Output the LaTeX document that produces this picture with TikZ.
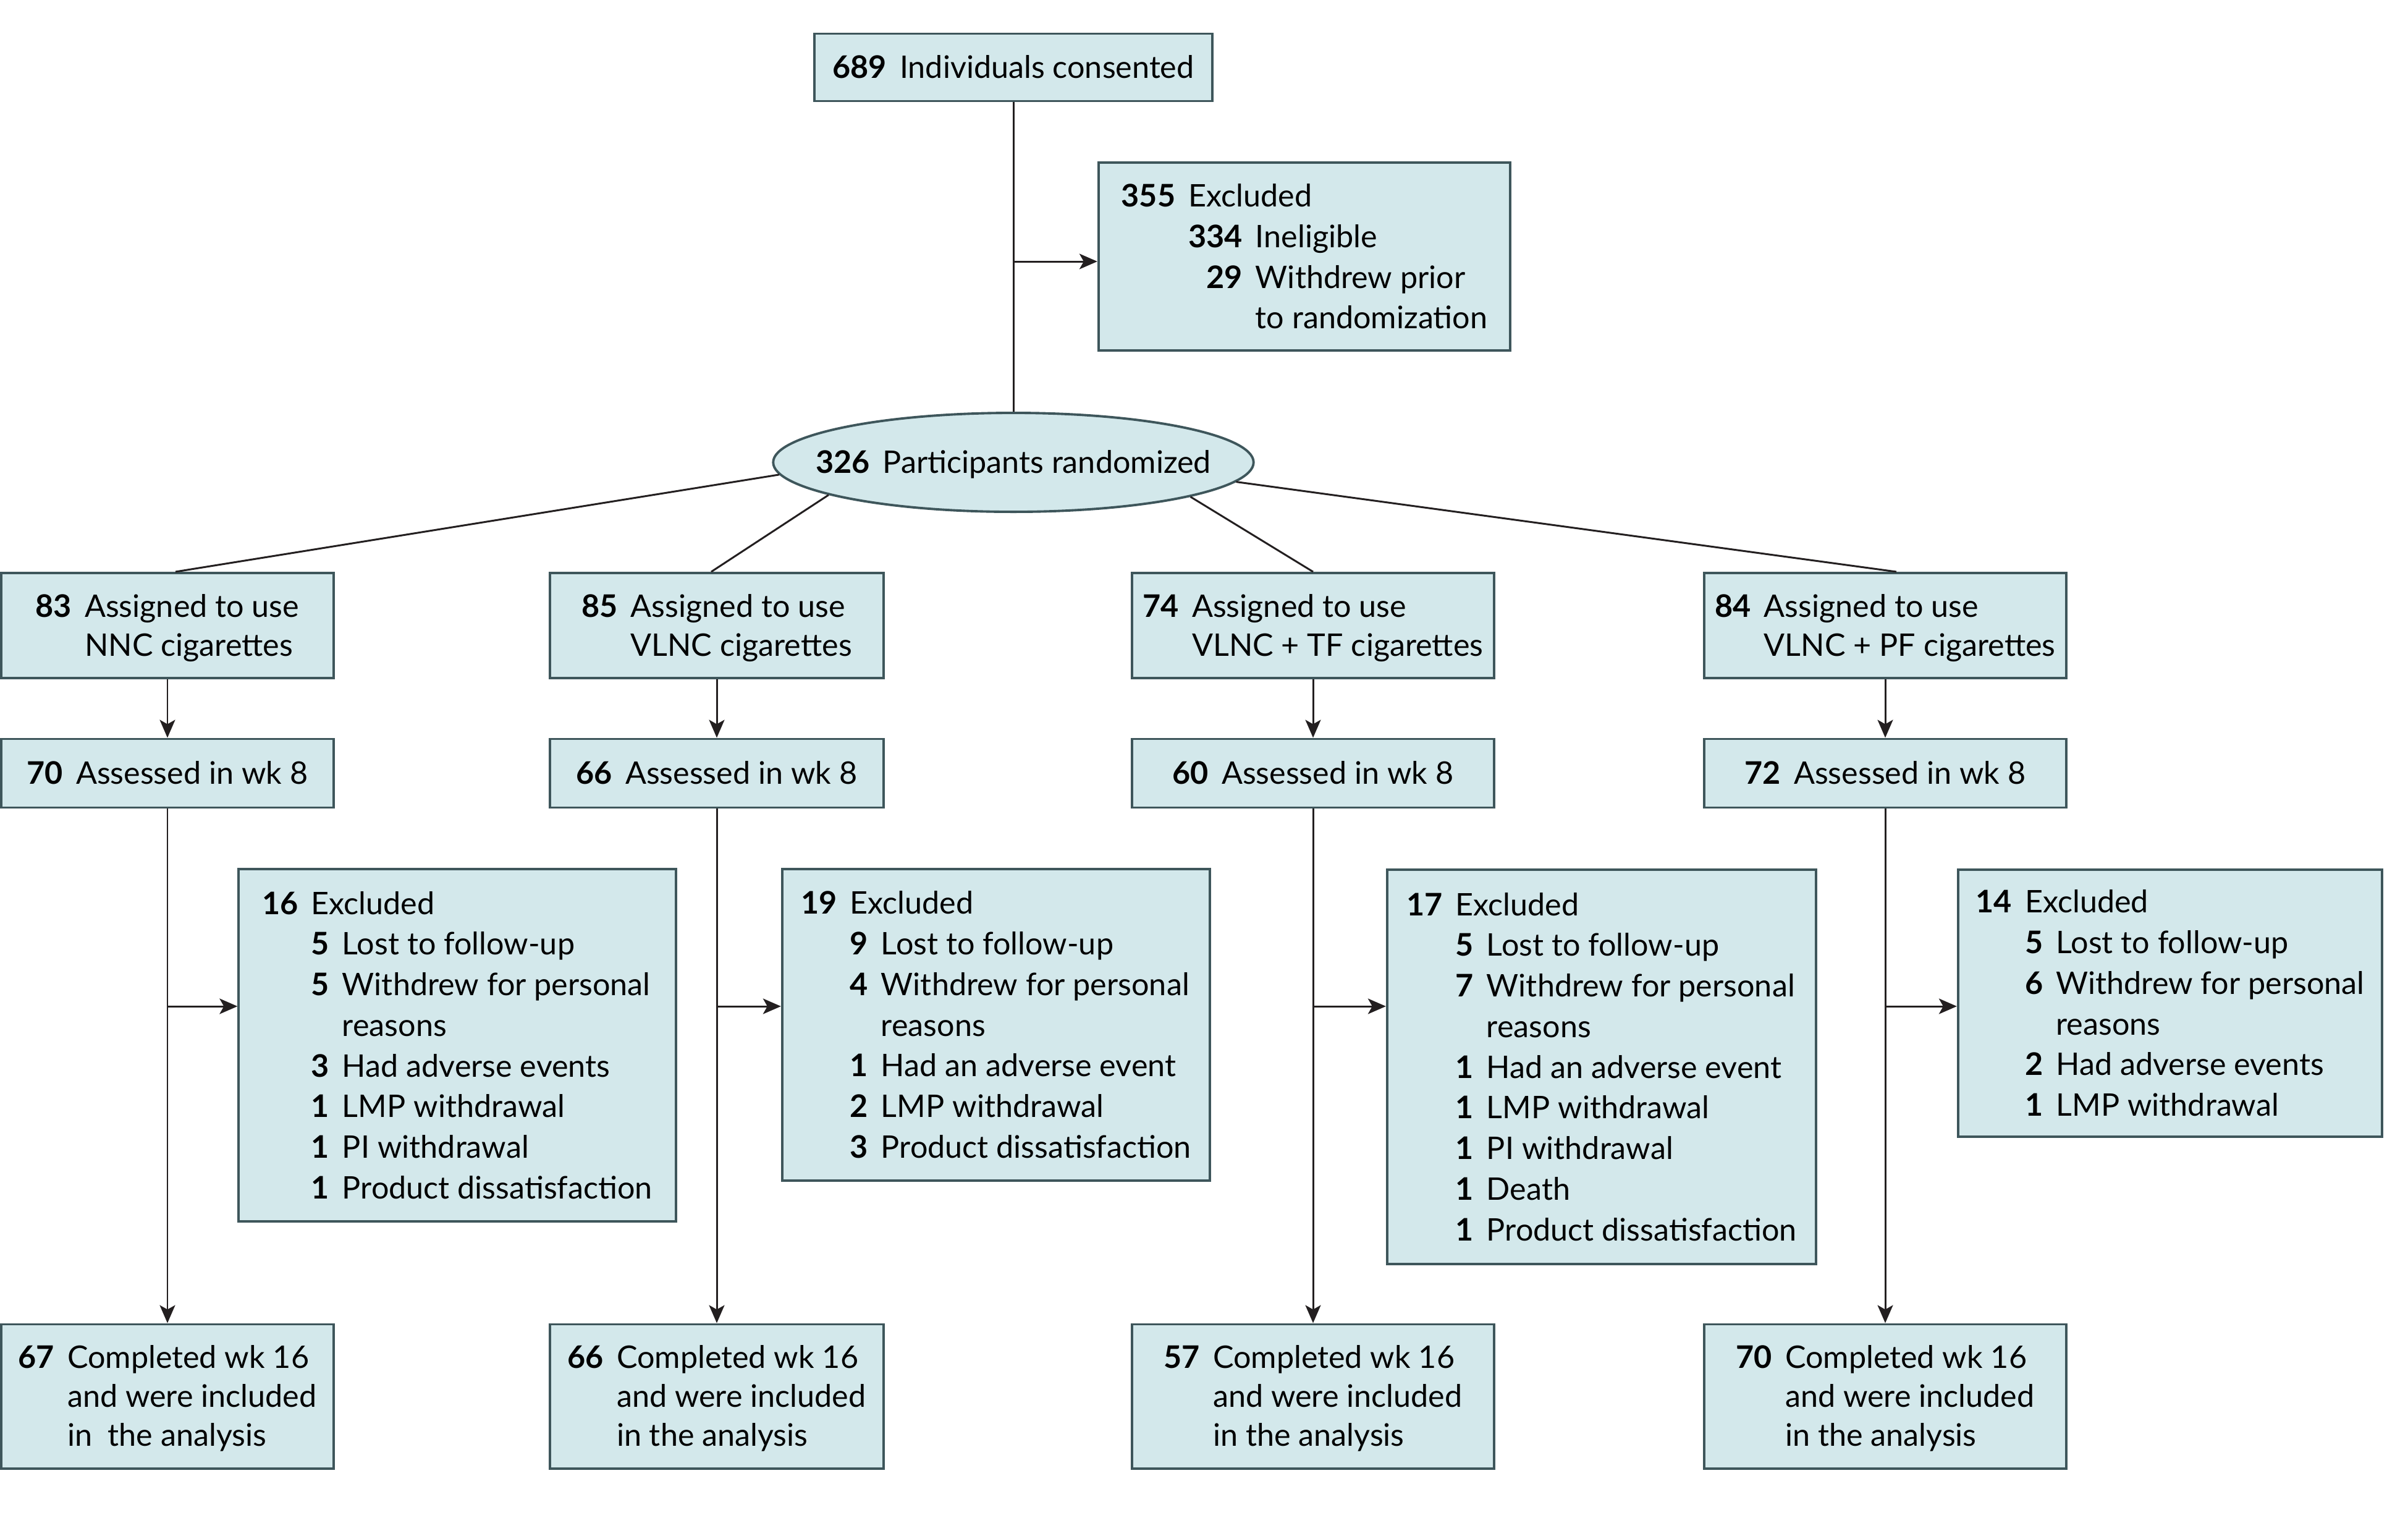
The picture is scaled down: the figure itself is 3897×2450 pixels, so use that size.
\documentclass[tikz,border=0pt]{standalone}
\usepackage{fontspec}
\setmainfont{Lato}
\usetikzlibrary{shapes.geometric,arrows.meta,calc}
\definecolor{boxfill}{RGB}{211,232,235}
\definecolor{boxline}{RGB}{62,86,91}
\definecolor{connc}{RGB}{35,31,32}
\newcommand\nb[1]{\textbf{#1}}
\newcommand\Tb[1]{\raisebox{-0.05cm}[\height][\depth]{\begin{tabular}{@{}r@{\hspace{0.42em}}l@{}}#1\end{tabular}}}
\newcommand\Tc[1]{\raisebox{-0.05cm}[\height][\depth]{\begin{tabular}{@{}r@{\hspace{0.42em}}r@{\hspace{0.42em}}l@{}}#1\end{tabular}}}
\newcommand\Hd[1]{\multicolumn{2}{@{}l@{}}{#1}}
\begin{document}
\begin{tikzpicture}[x=0.01cm,y=-0.01cm,
  box/.style={draw=boxline, fill=boxfill, line width=1.1pt, inner sep=0pt,
    font=\fontsize{14.3}{17.9}\selectfont},
  exbox/.style={box, font=\fontsize{14.3}{18.7}\selectfont},
  sz/.style 2 args={minimum width=#1cm, minimum height=#2cm},
  txt/.style={inner sep=0pt, font=\fontsize{14.3}{17.9}\selectfont},
  conn/.style={draw=connc, line width=0.85pt},
  arr/.style={conn, -{Stealth[length=0.29cm,width=0.25cm,inset=0.07cm]}}]
\useasboundingbox (0,0) rectangle (3897,2450);

% top
\node[box, sz={6.43}{1.09}] (top) at (1640,109) {\Tb{\nb{689} & Individuals consented}};
\node[exbox, sz={6.66}{3.04}] (ex0) at (2111,415) {\Tc{\nb{355} & \Hd{Excluded}\\
  & \nb{334} & Ineligible\\
  & \nb{29} & Withdrew prior\\
  & & to randomization}};
\node[ellipse, draw=boxline, fill=boxfill, line width=1.1pt, inner sep=0pt,
  minimum width=7.77cm, minimum height=1.60cm] (ell) at (1640,748) {};
\node[txt] (ellt) at (ell.center) {\Tb{\nb{326} & Participants randomized}};

% level 1
\node[box, sz={5.37}{1.70}] (a1) at (271,1012) {\Tb{\nb{83} & Assigned to use\\ & NNC cigarettes}};
\node[box, sz={5.39}{1.70}] (b1) at (1160,1012) {\Tb{\nb{85} & Assigned to use\\ & VLNC cigarettes}};
\node[box, sz={5.85}{1.70}] (c1) at (2125,1012) {\Tb{\nb{74} & Assigned to use\\ & VLNC + TF cigarettes}};
\node[box, sz={5.85}{1.70}] (d1) at (3051,1012) {\Tb{\nb{84} & Assigned to use\\ & VLNC + PF cigarettes}};

% level 2
\node[box, sz={5.37}{1.11}] (a2) at (271,1251) {\Tb{\nb{70} & Assessed in wk 8}};
\node[box, sz={5.39}{1.11}] (b2) at (1160,1251) {\Tb{\nb{66} & Assessed in wk 8}};
\node[box, sz={5.85}{1.11}] (c2) at (2125,1251) {\Tb{\nb{60} & Assessed in wk 8}};
\node[box, sz={5.85}{1.11}] (d2) at (3051,1251) {\Tb{\nb{72} & Assessed in wk 8}};

% exclusions
\node[exbox, sz={7.07}{5.69}] (ea) at (740,1691) {\Tc{\nb{16} & \Hd{Excluded}\\
  & \nb{5} & Lost to follow-up\\
  & \nb{5} & Withdrew for personal\\
  & & reasons\\
  & \nb{3} & Had adverse events\\
  & \nb{1} & LMP withdrawal\\
  & \nb{1} & PI withdrawal\\
  & \nb{1} & Product dissatisfaction}};
\node[exbox, sz={6.92}{5.03}] (eb) at (1612,1658) {\Tc{\nb{19} & \Hd{Excluded}\\
  & \nb{9} & Lost to follow-up\\
  & \nb{4} & Withdrew for personal\\
  & & reasons\\
  & \nb{1} & Had an adverse event\\
  & \nb{2} & LMP withdrawal\\
  & \nb{3} & Product dissatisfaction}};
\node[exbox, sz={6.94}{6.37}] (ec) at (2592,1726) {\Tc{\nb{17} & \Hd{Excluded}\\
  & \nb{5} & Lost to follow-up\\
  & \nb{7} & Withdrew for personal\\
  & & reasons\\
  & \nb{1} & Had an adverse event\\
  & \nb{1} & LMP withdrawal\\
  & \nb{1} & PI withdrawal\\
  & \nb{1} & Death\\
  & \nb{1} & Product dissatisfaction}};
\node[exbox, sz={6.86}{4.32}] (ed) at (3512,1623) {\Tc{\nb{14} & \Hd{Excluded}\\
  & \nb{5} & Lost to follow-up\\
  & \nb{6} & Withdrew for personal\\
  & & reasons\\
  & \nb{2} & Had adverse events\\
  & \nb{1} & LMP withdrawal}};

% completed
\node[box, sz={5.37}{2.33}] (a3) at (271,2259) {\Tb{\nb{67} & Completed wk 16\\ & and were included\\ & in\ \ the analysis}};
\node[box, sz={5.39}{2.33}] (b3) at (1160,2259) {\Tb{\nb{66} & Completed wk 16\\ & and were included\\ & in the analysis}};
\node[box, sz={5.85}{2.33}] (c3) at (2125,2259) {\Tb{\nb{57} & Completed wk 16\\ & and were included\\ & in the analysis}};
\node[box, sz={5.85}{2.33}] (d3) at (3051,2259) {\Tb{\nb{70} & Completed wk 16\\ & and were included\\ & in the analysis}};

% connectors
\draw[conn] (top.south) -- (ell.north);
\coordinate (j0) at (1640,423);
\draw[arr] (j0) -- (j0 -| ex0.west);

\draw[conn] (ell.183.2) -- ($(a1.north)+(13,0)$);
\draw[conn] (ell.190.9) -- ($(b1.north)+(-9,0)$);
\draw[conn] (ell.349.1) -- (c1.north);
\draw[conn] (ell.355.8) -- ($(d1.north)+(18,0)$);

\foreach \g in {a,b,c,d}{
  \draw[arr] (\g1) -- (\g2);
  \draw[arr] (\g2) -- (\g3);
}
\coordinate (ja) at (271,1628);
\coordinate (jb) at (1160,1628);
\coordinate (jc) at (2125,1628);
\coordinate (jd) at (3051,1628);
\draw[arr] (ja) -- (ja -| ea.west);
\draw[arr] (jb) -- (jb -| eb.west);
\draw[arr] (jc) -- (jc -| ec.west);
\draw[arr] (jd) -- (jd -| ed.west);
\end{tikzpicture}
\end{document}
